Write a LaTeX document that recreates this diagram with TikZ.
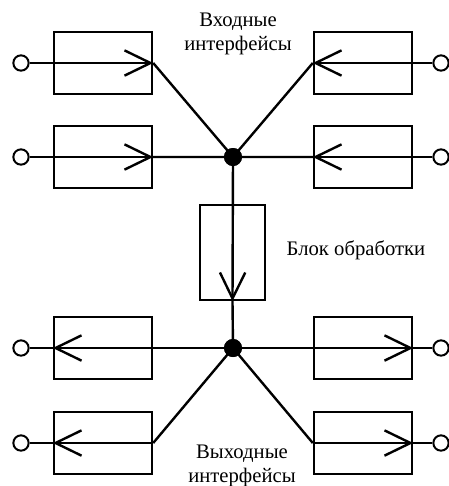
\documentclass[tikz,border=0pt]{standalone}
\usepackage{fontspec}
\setmainfont{Liberation Serif}
\usetikzlibrary{arrows.meta, positioning}

\begin{document}
\begin{tikzpicture}[x=0.75pt, y=-0.75pt, line width=1.8pt,
		                    box/.style={draw, minimum width=73.5pt, minimum height=46.5pt, inner sep=0pt},
		                    port/.style={draw, circle, fill=white, minimum size=11.5pt, inner sep=0pt, line width=1.5pt},
		                    hub/.style={circle, fill=black, minimum size=13.5pt, inner sep=0pt},
		                    lbl/.style={align=center, font=\fontsize{15.5}{17.5}\selectfont},
		                    barb/.style={-{Straight Barb[length=19.5pt, width=19pt, line width=1.8pt]}}]
		  \useasboundingbox (0,0) rectangle (449,486);
		  % inputs
		  \node[box] (in1)  at (103,63)    {};
		  \node[box] (in2)  at (103,157)   {};
		  \node[box] (in3)  at (363,63)    {};
		  \node[box] (in4)  at (363,157)   {};
		  \node[port] (pin1) at (21,63)    {};
		  \node[port] (pin2) at (21,157)   {};
		  \node[port] (pin3) at (441,63)   {};
		  \node[port] (pin4) at (441,157)  {};
		  % outputs
		  \node[box] (out1) at (103,348)   {};
		  \node[box] (out2) at (103,443)   {};
		  \node[box] (out3) at (363,348)   {};
		  \node[box] (out4) at (363,443)   {};
		  \node[port] (pout1) at (21,348)  {};
		  \node[port] (pout2) at (21,443)  {};
		  \node[port] (pout3) at (441,348) {};
		  \node[port] (pout4) at (441,443) {};
		  % processing
		  \node[box, minimum width=48.75pt, minimum height=71.25pt] (proc) at (232.5,252.5) {};
		  \node[hub] (hin)  at (233,157) {};
		  \node[hub] (hout) at (233,348) {};
		  
		  \node[lbl] (tin)   at (238,34)  {Входные\\интерфейсы};
		  \node[lbl] (tout)  at (242,466) {Выходные\\интерфейсы};
		  \node[lbl] (tproc) at (356,250) {Блок обработки};
		  
		  \draw[barb] (pin1) -- (in1.east);
		  \draw[barb] (pin2) -- (in2.east);
		  \draw[barb] (pin3) -- (in3.west);
		  \draw[barb] (pin4) -- (in4.west);
		  \draw (in1.east) -- (hin.center) -- (in3.west)
		        (in2.east) -- (hin.center) -- (in4.west);
		  \draw[barb] (hin.center) -- (proc.south);
		  \draw (proc.south) -- (hout.center);
		  \draw[barb] (hout.center) -- (out1.west);
		  \draw[barb] (hout.center) -- (out3.east);
		  \draw (hout.center) -- (out2.east) (hout.center) -- (out4.west);
		  \draw[barb] (out2.east) -- (out2.west);
		  \draw[barb] (out4.west) -- (out4.east);
		  \draw (out1.west) -- (pout1) (out2.west) -- (pout2)
		        (out3.east) -- (pout3) (out4.east) -- (pout4);
		  \node[hub] at (hin) {};
		  \node[hub] at (hout) {};
		\end{tikzpicture}
\end{document}
